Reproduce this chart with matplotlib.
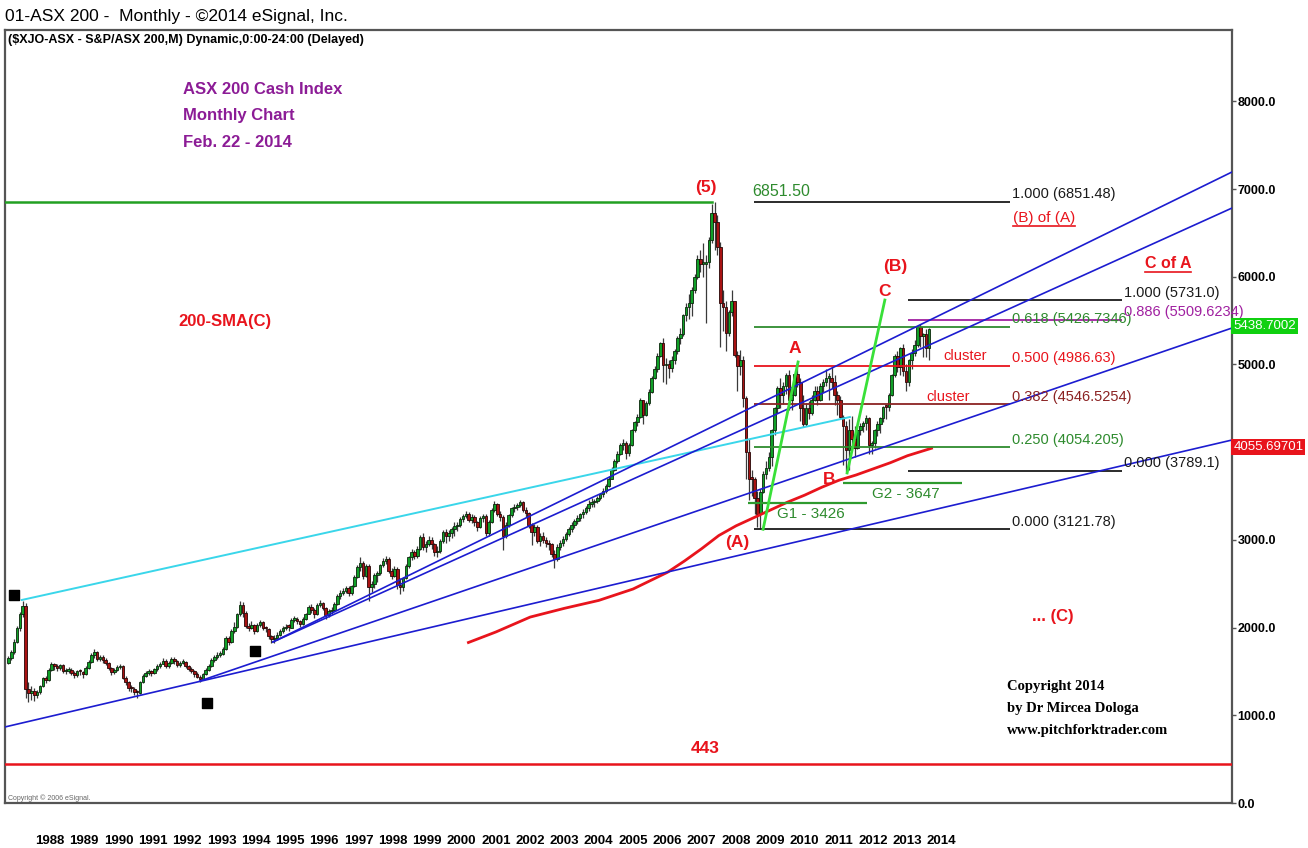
import matplotlib
matplotlib.use('Agg')
import matplotlib.pyplot as plt
import numpy as np

NARROW = ['Liberation Sans Narrow', 'Liberation Sans', 'DejaVu Sans']
SERIF = ['Liberation Serif', 'DejaVu Serif']
plt.rcParams['font.family'] = NARROW

# ---- monthly candles, Apr 1987 .. Feb 2014 (open = previous close) ----
first_open = 1600
closes = [
    1650, 1720, 1840, 1990, 2150, 2250, 1300, 1250, 1280,                  # 1987 Apr-Dec
    1230, 1260, 1330, 1420, 1400, 1520, 1580, 1560, 1540, 1570, 1500, 1510,  # 1988
    1520, 1480, 1460, 1500, 1490, 1470, 1540, 1610, 1690, 1720, 1640, 1660,  # 1989
    1630, 1600, 1540, 1490, 1520, 1550, 1560, 1430, 1380, 1310, 1300, 1260,  # 1990
    1250, 1380, 1450, 1480, 1500, 1480, 1530, 1560, 1590, 1620, 1560, 1600,  # 1991
    1640, 1620, 1570, 1600, 1610, 1560, 1530, 1510, 1470, 1440, 1410, 1470,  # 1992
    1520, 1560, 1630, 1660, 1690, 1700, 1760, 1880, 1840, 1960, 2010, 2150,  # 1993
    2260, 2170, 2020, 2000, 2030, 1960, 2030, 2060, 1990, 1980, 1900, 1870,  # 1994
    1880, 1920, 1960, 1990, 2010, 2000, 2090, 2100, 2070, 2040, 2100, 2160,  # 1995
    2240, 2200, 2150, 2260, 2280, 2220, 2140, 2190, 2200, 2270, 2360, 2400,  # 1996
    2420, 2450, 2390, 2470, 2580, 2690, 2740, 2590, 2700, 2460, 2500, 2600,  # 1997
    2620, 2710, 2760, 2780, 2650, 2590, 2670, 2490, 2460, 2560, 2700, 2800,  # 1998
    2860, 2820, 2900, 3030, 2920, 2950, 3000, 2950, 2860, 2870, 2990, 3090,  # 1999
    3050, 3080, 3120, 3160, 3170, 3240, 3270, 3300, 3230, 3260, 3200, 3150,  # 2000
    3250, 3270, 3080, 3200, 3340, 3410, 3300, 3260, 3040, 3170, 3280, 3360,  # 2001
    3380, 3400, 3430, 3340, 3310, 3170, 3090, 3150, 2990, 3050, 3000, 2970,  # 2002
    2950, 2840, 2780, 2920, 2960, 3010, 3070, 3120, 3170, 3220, 3250, 3300,  # 2003
    3320, 3360, 3410, 3430, 3440, 3480, 3520, 3560, 3620, 3700, 3800, 3900,  # 2004
    3980, 4080, 4110, 3990, 4080, 4250, 4340, 4400, 4590, 4420, 4560, 4690,  # 2005
    4850, 4950, 5100, 5240, 4990, 5000, 4960, 5050, 5150, 5300, 5350, 5560,  # 2006
    5650, 5700, 5850, 6000, 6200, 6150, 6150, 6170, 6420, 6730, 6620, 6340,  # 2007
    5700, 5650, 5360, 5600, 5720, 5110, 4980, 5050, 4620, 4000, 3700, 3690,  # 2008
    3480, 3300, 3550, 3750, 3820, 3950, 4250, 4500, 4730, 4650, 4750, 4880,  # 2009
    4600, 4650, 4890, 4800, 4500, 4320, 4500, 4450, 4600, 4700, 4600, 4750,  # 2010
    4800, 4850, 4850, 4800, 4650, 4600, 4400, 4300, 4020, 4250, 4150, 4050,  # 2011
    4250, 4300, 4330, 4390, 4080, 4100, 4250, 4320, 4390, 4520, 4510, 4650,  # 2012
    4880, 5100, 4970, 5190, 4930, 4800, 5050, 5130, 5220, 5430, 5320, 5350,  # 2013
    5190, 5410,                                                              # 2014
]
highs = [
    1680, 1750, 1870, 2020, 2180, 2300, 2280, 1380, 1330,
    1310, 1290, 1350, 1440, 1450, 1540, 1610, 1600, 1580, 1590, 1580, 1540,
    1550, 1540, 1500, 1520, 1530, 1510, 1560, 1630, 1710, 1760, 1730, 1690,
    1690, 1650, 1610, 1550, 1540, 1570, 1590, 1570, 1450, 1390, 1340, 1320,
    1290, 1390, 1470, 1500, 1530, 1520, 1540, 1580, 1610, 1650, 1640, 1620,
    1670, 1660, 1630, 1620, 1640, 1620, 1570, 1550, 1520, 1490, 1460, 1480,
    1540, 1580, 1650, 1690, 1720, 1730, 1780, 1900, 1900, 1980, 2060, 2170,
    2300, 2290, 2190, 2050, 2080, 2040, 2050, 2090, 2070, 2020, 1990, 1920,
    1920, 1950, 1980, 2020, 2040, 2040, 2110, 2130, 2120, 2090, 2120, 2170,
    2260, 2270, 2220, 2280, 2310, 2290, 2230, 2210, 2230, 2290, 2380, 2430,
    2450, 2480, 2470, 2490, 2600, 2710, 2800, 2760, 2730, 2720, 2530, 2620,
    2650, 2730, 2790, 2820, 2800, 2680, 2700, 2690, 2560, 2580, 2720, 2820,
    2900, 2890, 2930, 3060, 3080, 2990, 3040, 3030, 2960, 2930, 3010, 3110,
    3120, 3110, 3150, 3200, 3200, 3260, 3300, 3330, 3320, 3290, 3280, 3210,
    3270, 3300, 3290, 3230, 3360, 3440, 3420, 3330, 3280, 3200, 3300, 3380,
    3410, 3420, 3450, 3440, 3370, 3320, 3190, 3180, 3170, 3080, 3090, 3030,
    3000, 2960, 2880, 2950, 3000, 3040, 3090, 3150, 3200, 3240, 3280, 3310,
    3350, 3390, 3450, 3480, 3470, 3500, 3540, 3590, 3640, 3730, 3830, 3920,
    4010, 4110, 4150, 4130, 4100, 4270, 4360, 4430, 4620, 4600, 4580, 4720,
    4870, 4980, 5130, 5260, 5300, 5070, 5050, 5100, 5180, 5320, 5420, 5580,
    5700, 5800, 5880, 6030, 6250, 6300, 6380, 6250, 6450, 6830, 6851, 6700,
    6400, 5850, 5720, 5620, 5850, 5720, 5150, 5160, 5100, 4640, 4150, 3800,
    3720, 3560, 3580, 3790, 3900, 4000, 4260, 4520, 4760, 4850, 4800, 4900,
    4940, 4700, 4900, 5010, 4850, 4650, 4560, 4580, 4650, 4760, 4750, 4790,
    4830, 4950, 4900, 4970, 4880, 4700, 4640, 4420, 4360, 4380, 4410, 4300,
    4280, 4330, 4360, 4420, 4400, 4130, 4270, 4360, 4400, 4530, 4540, 4670,
    4890, 5120, 5150, 5200, 5230, 5000, 5060, 5180, 5280, 5440, 5460, 5360,
    5400, 5420,
]
lows = [
    1590, 1630, 1700, 1820, 1960, 2120, 1200, 1150, 1180,
    1160, 1200, 1240, 1320, 1370, 1390, 1500, 1520, 1500, 1520, 1480, 1470,
    1480, 1460, 1420, 1440, 1460, 1430, 1460, 1530, 1600, 1650, 1620, 1620,
    1600, 1570, 1520, 1460, 1470, 1500, 1530, 1410, 1340, 1280, 1270, 1230,
    1200, 1240, 1370, 1440, 1460, 1450, 1470, 1510, 1540, 1580, 1540, 1540,
    1590, 1590, 1550, 1550, 1580, 1540, 1500, 1480, 1440, 1420, 1380, 1400,
    1460, 1500, 1550, 1610, 1640, 1660, 1690, 1750, 1800, 1830, 1940, 2000,
    2130, 2120, 1990, 1960, 1980, 1930, 1950, 2010, 1970, 1950, 1870, 1830,
    1830, 1860, 1900, 1940, 1970, 1960, 1990, 2060, 2040, 2010, 2030, 2090,
    2150, 2170, 2110, 2140, 2230, 2200, 2100, 2120, 2160, 2190, 2260, 2330,
    2370, 2400, 2360, 2370, 2460, 2560, 2650, 2550, 2580, 2300, 2410, 2450,
    2520, 2600, 2690, 2720, 2620, 2550, 2580, 2440, 2380, 2420, 2550, 2680,
    2770, 2780, 2790, 2880, 2880, 2860, 2930, 2900, 2820, 2800, 2850, 2970,
    2970, 2990, 3020, 3050, 3100, 3150, 3200, 3250, 3200, 3190, 3160, 3100,
    3130, 3200, 3040, 3050, 3190, 3320, 3270, 3220, 2880, 3020, 3150, 3260,
    3320, 3340, 3380, 3320, 3260, 3140, 2940, 3050, 2970, 2930, 2960, 2920,
    2880, 2800, 2680, 2760, 2880, 2930, 2990, 3050, 3090, 3140, 3180, 3220,
    3250, 3290, 3330, 3370, 3370, 3420, 3450, 3490, 3540, 3600, 3690, 3780,
    3880, 3970, 4020, 3920, 3960, 4070, 4230, 4300, 4390, 4320, 4410, 4540,
    4680, 4830, 4910, 5080, 4800, 4780, 4850, 4920, 5000, 5120, 5230, 5330,
    5500, 5520, 5550, 5820, 5980, 6050, 6000, 5470, 6100, 6380, 6300, 6250,
    5200, 5380, 5150, 5330, 5550, 5080, 4700, 4880, 4520, 3700, 3450, 3500,
    3300, 3150, 3121, 3530, 3700, 3780, 3840, 4200, 4450, 4500, 4550, 4660,
    4480, 4480, 4640, 4740, 4350, 4290, 4300, 4380, 4420, 4580, 4540, 4580,
    4690, 4760, 4600, 4730, 4540, 4420, 4380, 3850, 3770, 3800, 4080, 3950,
    4040, 4200, 4230, 4250, 3980, 3985, 4050, 4190, 4220, 4340, 4380, 4470,
    4640, 4860, 4910, 4880, 4870, 4700, 4760, 4950, 5100, 5200, 5200, 5080,
    5080, 5050,
]
start_year, start_month = 1987, 4

# 200-SMA(C)
sma_dates = [2000.7, 2001.5, 2002.5, 2003.5, 2004.5, 2005.5, 2006.5, 2007.0, 2007.5, 2008.0,
             2008.5, 2009.0, 2009.5, 2010.0, 2010.5, 2011.0, 2011.5, 2012.0, 2012.5, 2013.0,
             2013.5, 2014.2]
sma_values = [1830, 1950, 2120, 2220, 2310, 2440, 2630, 2760, 2900, 3050,
              3160, 3250, 3340, 3430, 3510, 3600, 3680, 3740, 3810, 3880,
              3960, 4045]

# trend lines: ((date, price), (date, price))
blue_lines = [((1987.19, 867), (2022.96, 4139)),
              ((1992.87, 1391), (2022.96, 5416)),
              ((1995.00, 1836), (2022.96, 7195)),
              ((1995.00, 1836), (2022.96, 6784))]
cyan_line = ((1987.68, 2315), (2011.82, 4401))
green_legs = [((2009.29, 3121), (2010.31, 5029)),
              ((2011.74, 3763), (2012.84, 5735))]

# fibonacci retracement sets
fib1_levels = [6851.48, 5426.7346, 4986.63, 4546.5254, 4054.205, 3121.78]
fib1_ratios = ['1.000', '0.618', '0.500', '0.382', '0.250', '0.000']
fib1_colors = ['#1a1a1a', '#2e8b2e', '#e8141c', '#8b2323', '#2e8b2e', '#1a1a1a']
fib1_span = (2009.02, 2016.49)
fib2_levels = [5731.0, 5509.6234, 3789.1]
fib2_ratios = ['1.000', '0.886', '0.000']
fib2_colors = ['#1a1a1a', '#a020a0', '#1a1a1a']
fib2_span = (2013.51, 2019.75)

# G1 / G2 levels
g_levels = [3426, 3647]
g_names = ['G1', 'G2']
g_spans = [(2008.85, 2012.32), (2011.62, 2015.09)]

top_level = 6851.50
floor_level = 443
mark_dates = [1987.45, 1993.08, 1994.48]
mark_prices = [2372, 1140, 1733]
edge_values = [5438.7002, 4055.69701]
edge_colors = ['#10d010', '#e8141c']
years = list(range(1988, 2015))
price_ticks = list(range(0, 9000, 1000))

RED = '#e8141c'
GREEN_TXT = '#2e8b2e'
BLUE = '#1c1cd0'

# ---------------------------------------------------------------
o = np.array([first_open] + closes[:-1], dtype=float)
c = np.array(closes, dtype=float)
h = np.array(highs, dtype=float)
l = np.array(lows, dtype=float)
n = len(c)
dates = np.array([start_year + (start_month - 1 + i) / 12 + 1 / 24 for i in range(n)])

fig = plt.figure(figsize=(13.08, 8.48), dpi=100)
ax = fig.add_axes([5 / 1308, 1 - 803 / 848, 1227 / 1308, 773 / 848])
ax.set_xlim(1987.19, 2022.96)
ax.set_ylim(0, 8814)

# candles
up = c >= o
ax.vlines(dates, l, h, color='#3a3a3a', lw=0.9, zorder=2)
body = np.where(np.abs(c - o) < 15, 15, c - o)
ax.bar(dates[up], body[up], bottom=o[up], width=0.075, color='#10a028',
       edgecolor='#0c260c', lw=0.6, zorder=3)
ax.bar(dates[~up], body[~up], bottom=o[~up], width=0.075, color='#a81212',
       edgecolor='#260606', lw=0.6, zorder=3)

# sma + lines
ax.plot(sma_dates, sma_values, color=RED, lw=2.0, zorder=4)
for (d1, p1), (d2, p2) in blue_lines:
    ax.plot([d1, d2], [p1, p2], color=BLUE, lw=1.2, zorder=5)
ax.plot([cyan_line[0][0], cyan_line[1][0]], [cyan_line[0][1], cyan_line[1][1]],
        color='#3ad6ea', lw=1.4, zorder=4)
for (d1, p1), (d2, p2) in green_legs:
    ax.plot([d1, d2], [p1, p2], color='#39e039', lw=2.0, zorder=5)

ax.plot([ax.get_xlim()[0], 2007.80], [top_level, top_level], color='#22a022', lw=1.8, zorder=4)
ax.axhline(floor_level, color=RED, lw=1.8, zorder=4)
ax.scatter(mark_dates, mark_prices, marker='s', s=42, color='black', zorder=6)

lab_kw = dict(fontsize=10.5, textcoords='offset points', va='bottom', ha='left', zorder=7)
for lev, r, col in zip(fib1_levels, fib1_ratios, fib1_colors):
    ax.hlines(lev, *fib1_span, color=col, lw=1.3, zorder=4)
    ax.annotate(f'{r} ({lev})', (fib1_span[1], lev), xytext=(1.5, 0.5), color=col, **lab_kw)
for lev, r, col in zip(fib2_levels, fib2_ratios, fib2_colors):
    ax.hlines(lev, *fib2_span, color=col, lw=1.3, zorder=4)
    ax.annotate(f'{r} ({lev})', (fib2_span[1], lev), xytext=(1.5, 0.5), color=col, **lab_kw)
for lev, nm, (d1, d2) in zip(g_levels, g_names, g_spans):
    ax.hlines(lev, d1, d2, color='#2e9a2e', lw=1.6, zorder=4)
    ax.annotate(f'{nm} - {lev}', (d1, lev), xytext=(21, -3), color=GREEN_TXT,
                fontsize=11, textcoords='offset points', va='top', ha='left')

# text labels
ax.text(1987.276, 8700, '($XJO-ASX - S&P/ASX 200,M) Dynamic,0:00-24:00 (Delayed)',
        fontsize=9, fontweight='bold', va='center')
for txt, yy in zip(['ASX 200 Cash Index', 'Monthly Chart', 'Feb. 22 - 2014'], [8130, 7834, 7526]):
    ax.text(1992.378, yy, txt, color='#8c1c96', fontsize=12, fontweight='bold', va='center')
ax.text(1992.23, 5485, '200-SMA(C)', color=RED, fontsize=12, fontweight='bold', va='center')
ax.text(2008.966, 6967, f'{top_level:.2f}', color=GREEN_TXT, fontsize=11.5, va='center')

red_bold = [('(5)', 2007.625, 7013), ('(B)', 2013.135, 6123), ('C', 2012.84, 5827),
            ('A', 2010.22, 5177), ('B', 2011.21, 3683), ('(A)', 2008.53, 2965),
            (str(floor_level), 2007.6, 627)]
for txt, d, p in red_bold:
    ax.text(d, p, txt, color=RED, fontsize=12.5, fontweight='bold', ha='center', va='center')
ax.text(2014.56, 5097, 'cluster', color=RED, fontsize=10.5, va='center')
ax.text(2014.04, 4630, 'cluster', color=RED, fontsize=10.5, va='center')
ax.text(2017.13, 2121, '... (C)', color=RED, fontsize=12, fontweight='bold', va='center')
t_b = ax.text(2016.576, 6670, '(B) of (A)', color=RED, fontsize=11, va='center')
t_c = ax.text(2020.42, 6146, 'C of A', color=RED, fontsize=11.5, fontweight='bold', va='center')

for txt, yy in zip(['Copyright 2014', 'by Dr Mircea Dologa', 'www.pitchforktrader.com'],
                   [1323, 1072, 821]):
    ax.text(2016.40, yy, txt, family=SERIF, fontsize=10.5, fontweight='bold', va='center')
ax.text(1987.28, 60, 'Copyright \u00a9 2006 eSignal.', fontsize=5, color='#666666', va='center')

for val, col in zip(edge_values, edge_colors):
    ax.text(1.001, val, f'{val}', transform=ax.get_yaxis_transform(), color='white',
            fontsize=9.5, va='center', ha='left', clip_on=False, zorder=8,
            bbox=dict(boxstyle='square,pad=0.15', fc=col, ec='none'))

# axes styling
for s in ax.spines.values():
    s.set_color('#555555')
    s.set_linewidth(1.6)
ax.yaxis.tick_right()
ax.set_yticks(price_ticks)
# the 4000 label sits under the red edge box in the original
ax.set_yticklabels(['' if v == 4000 else f'{v:.1f}' for v in price_ticks],
                   fontsize=9, fontweight='bold')
ax.tick_params(axis='y', length=3, width=1, pad=1, color='#555555')
ax.set_xticks([y + 0.5 for y in years])
ax.set_xticklabels([str(y) for y in years], fontsize=9.5, fontweight='bold')
ax.tick_params(axis='x', length=0, pad=23)

fig.text(5 / 1308, 1 - 17 / 848, '01-ASX 200 -  Monthly - \u00a92014 eSignal, Inc.',
         fontsize=12.5, va='center', ha='left')

# underline the two wave labels
fig.canvas.draw()
for t in (t_b, t_c):
    bb = t.get_window_extent()
    inv = fig.transFigure.inverted()
    (x0, y0), (x1, _) = inv.transform([(bb.x0, bb.y0), (bb.x1, bb.y0)])
    fig.add_artist(plt.Line2D([x0, x1], [y0 - 0.001, y0 - 0.001], color=RED, lw=1.2))

fig.savefig('out.png', dpi=100, facecolor='white')
